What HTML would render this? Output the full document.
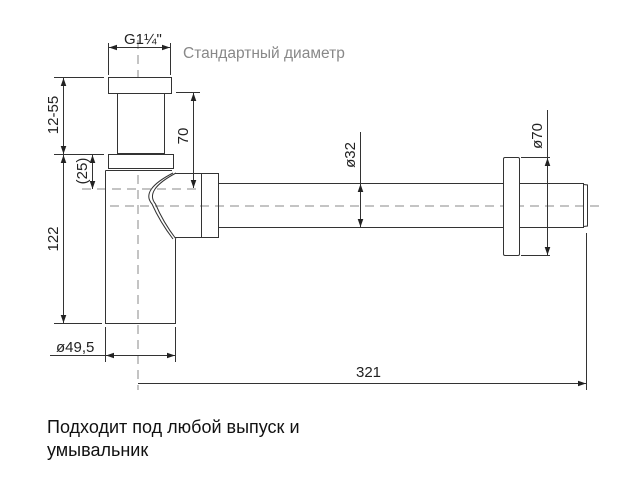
<!DOCTYPE html>
<html><head><meta charset="utf-8"><style>
html,body{margin:0;padding:0;background:#fff;}
svg{display:block;}
text{font-family:"Liberation Sans",sans-serif;fill:#222;}
</style></head><body>
<svg width="626" height="487" viewBox="0 0 626 487" xmlns="http://www.w3.org/2000/svg">
<defs>
<marker id="a" viewBox="0 0 10 10" refX="10" refY="5" markerWidth="8" markerHeight="8" orient="auto-start-reverse" markerUnits="userSpaceOnUse"><path d="M0,1.5 L10,5 L0,8.5 z" fill="#222"/></marker>
</defs>
<g stroke="#333" stroke-width="1" fill="none">
<line x1="138" y1="40" x2="138" y2="390" stroke="#888" stroke-dasharray="9,6"/>
<line x1="110" y1="206" x2="602" y2="206" stroke="#888" stroke-dasharray="9,6"/>
<line x1="82" y1="189" x2="200" y2="189" stroke="#888" stroke-dasharray="9,6"/>
<rect x="108.5" y="77.5" width="63" height="16" fill="#fff"/>
<rect x="117.5" y="93.5" width="47" height="60" fill="#fff"/>
<rect x="108.5" y="154.5" width="65" height="14" fill="#fff"/>
<path d="M105.5,170.5 L172,170.5 M105.5,170.5 L105.5,323.5 L175.5,323.5 L175.5,239"/>
<path d="M173,173 Q140,190 152,204 Q160,222 173,239"/>
<path d="M176,173 Q144,190 155.5,204 Q163,222 176,239"/>
<path d="M175,173.5 L218.5,173.5 L218.5,237.5 L175,237.5 M201.5,173.5 L201.5,237.5"/>
<path d="M218.5,183.5 L583.5,183.5 L583.5,227.5 L218.5,227.5"/>
<path d="M583.5,184.5 L587.5,185 L587.5,226 L583.5,226.5"/>
<rect x="503.5" y="157.5" width="16" height="98" rx="1.5" fill="#fff"/>
<line x1="108.5" y1="43" x2="108.5" y2="75"/>
<line x1="170.5" y1="43" x2="170.5" y2="75"/>
<line x1="109" y1="47.5" x2="170" y2="47.5" marker-start="url(#a)" marker-end="url(#a)"/>
<line x1="54" y1="77.5" x2="104" y2="77.5"/>
<line x1="54" y1="154.5" x2="104" y2="154.5"/>
<line x1="54" y1="323.5" x2="102" y2="323.5"/>
<line x1="63.5" y1="78" x2="63.5" y2="154" marker-start="url(#a)" marker-end="url(#a)"/>
<line x1="63.5" y1="155" x2="63.5" y2="323" marker-start="url(#a)" marker-end="url(#a)"/>
<line x1="92.5" y1="155" x2="92.5" y2="189" marker-start="url(#a)" marker-end="url(#a)"/>
<line x1="176" y1="92.5" x2="200" y2="92.5"/>
<line x1="193.5" y1="93" x2="193.5" y2="188" marker-start="url(#a)" marker-end="url(#a)"/>
<line x1="105.5" y1="327" x2="105.5" y2="362"/>
<line x1="175.5" y1="327" x2="175.5" y2="362"/>
<line x1="50" y1="355.5" x2="105" y2="355.5"/>
<line x1="106" y1="355.5" x2="175" y2="355.5" marker-start="url(#a)" marker-end="url(#a)"/>
<line x1="360.5" y1="132" x2="360.5" y2="183" />
<line x1="360.5" y1="184" x2="360.5" y2="227" marker-start="url(#a)" marker-end="url(#a)"/>
<line x1="521" y1="157.5" x2="550" y2="157.5"/>
<line x1="521" y1="255.5" x2="550" y2="255.5"/>
<line x1="547.5" y1="110" x2="547.5" y2="157"/>
<line x1="547.5" y1="158" x2="547.5" y2="255" marker-start="url(#a)" marker-end="url(#a)"/>
<line x1="586.5" y1="233" x2="586.5" y2="390"/>
<line x1="138" y1="383.5" x2="586" y2="383.5" marker-end="url(#a)"/>
</g>
<text x="124" y="44" font-size="15">G1¼"</text>
<text x="183" y="58" font-size="15.5" style="fill:#888">Стандартный диаметр</text>
<text transform="translate(58,115) rotate(-90)" font-size="15" text-anchor="middle">12-55</text>
<text transform="translate(58,239) rotate(-90)" font-size="15" text-anchor="middle">122</text>
<text transform="translate(87,171) rotate(-90)" font-size="15" text-anchor="middle">(25)</text>
<text transform="translate(188,136) rotate(-90)" font-size="15" text-anchor="middle">70</text>
<text transform="translate(355,155) rotate(-90)" font-size="15" text-anchor="middle">ø32</text>
<text transform="translate(542,136) rotate(-90)" font-size="15" text-anchor="middle">ø70</text>
<text x="56" y="352" font-size="15">ø49,5</text>
<text x="356" y="377" font-size="15">321</text>
<text x="47" y="433" font-size="18" style="fill:#111">Подходит под любой выпуск и</text>
<text x="47" y="456" font-size="18" style="fill:#111">умывальник</text>
</svg>
</body></html>
